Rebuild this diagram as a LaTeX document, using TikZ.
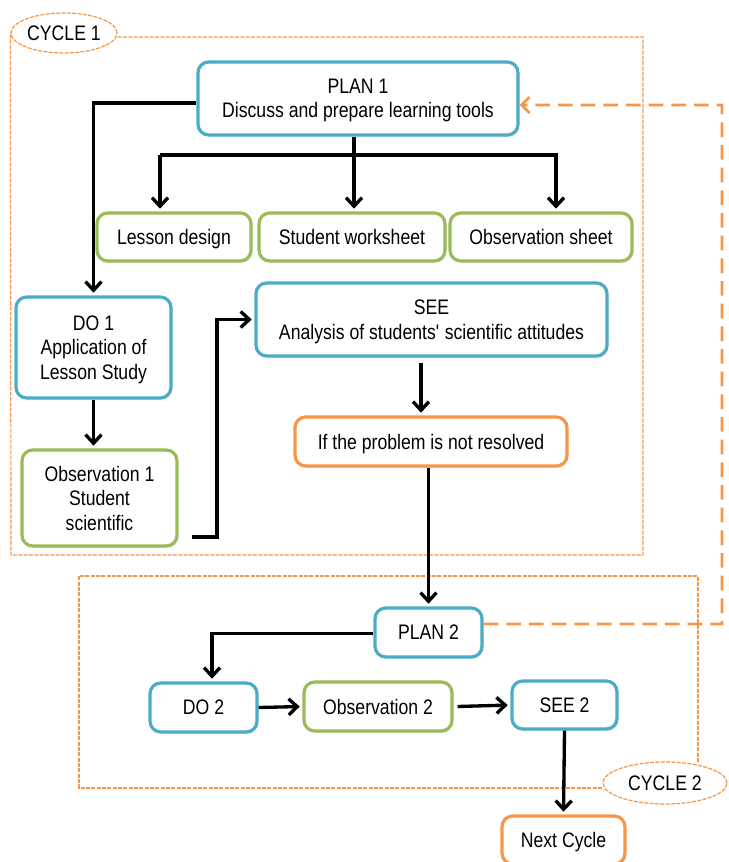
\documentclass[tikz,border=0pt]{standalone}
\usepackage{fontspec}
\setmainfont{Liberation Sans}[FakeStretch=0.84]
\usetikzlibrary{arrows.meta,shapes.geometric,shadows}
\definecolor{cblue}{HTML}{4BACC6}
\definecolor{cgreen}{HTML}{9BBB59}
\definecolor{corange}{HTML}{F79646}
\begin{document}
\begin{tikzpicture}[x=0.75pt,y=-0.75pt,
  nbox/.style={draw, line width=2.4pt, rounded corners=8pt, fill=white, align=center,
    inner sep=0pt, font=\fontsize{15.75}{18.4}\selectfont, text depth=-1.9pt,
    drop shadow={shadow xshift=1pt, shadow yshift=-1.3pt, opacity=0.22}},
  bluebox/.style={nbox, draw=cblue},
  greenbox/.style={nbox, draw=cgreen},
  orangebox/.style={nbox, draw=corange},
  sz/.style 2 args={minimum width=#1*0.75pt, minimum height=#2*0.75pt},
  arr/.style={line width=2.5pt, -{Straight Barb[length=6.5pt,width=12pt]}, shorten >=2pt},
  ln/.style={line width=2.5pt},
  cframe/.style={draw=corange, line width=0.9pt, dash pattern=on 3pt off 1pt},
  cyc/.style={ellipse, draw=corange, line width=0.9pt, dash pattern=on 3pt off 1pt,
    fill=white, inner sep=0pt, font=\fontsize{15.75}{18.4}\selectfont},
  fb/.style={draw=corange, line width=2pt, dash pattern=on 11pt off 6pt,
    -{Straight Barb[length=6pt,width=12pt]}}]
\useasboundingbox (0,0) rectangle (728,862);

% frames
\node[cyc, sz={106}{40}] (cyc1) at (64,33) {CYCLE 1};
\draw[cframe] (cyc1.east |- 0,37) -- (643,37) -- (643,555) -- (11,555) -- (cyc1.west);
\node[cyc, sz={124}{42}] (cyc2) at (665,783) {CYCLE 2};
\draw[cframe] (698,762) -- (698,576) -- (79,576) -- (79,788) -- (cyc2.west |- 0,788);

% nodes
\node[bluebox, sz={320}{73}] (plan1) at (358,98.5) {PLAN 1\\Discuss and prepare learning tools};
\node[greenbox, sz={154}{48}] (lesson) at (174,237) {Lesson design};
\node[greenbox, sz={186}{48}] (worksheet) at (352,237) {Student worksheet};
\node[greenbox, sz={182}{48}] (obssheet) at (541,237) {Observation sheet};
\node[bluebox, sz={155}{101}] (do1) at (93.5,347.5) {DO 1\\Application of\\Lesson Study};
\node[greenbox, sz={155}{96}] (obs1) at (99.5,498) {Observation 1\\Student\\scientific};
\node[bluebox, sz={351}{73}] (see) at (431.5,319.5) {SEE\\Analysis of students\textquotesingle{} scientific attitudes};
\node[orangebox, sz={272}{49}] (ifbox) at (431,441.5) {If the problem is not resolved};
\node[bluebox, sz={107}{49}] (plan2) at (428.5,632.5) {PLAN 2};
\node[bluebox, sz={107}{49}] (do2) at (203.5,707.5) {DO 2};
\node[greenbox, sz={148}{49}] (obs2) at (378,706.5) {Observation 2};
\node[bluebox, sz={105}{48}] (see2) at (564.5,705) {SEE 2};
\node[orangebox, sz={123}{48}] (next) at (563.5,840) {Next Cycle};

% connectors cycle 1
\draw[arr] ([yshift=-3.4pt]plan1.west) -| (do1.north);
\coordinate (b1) at (160,155);
\coordinate (b3) at (556,155);
\draw[ln] (plan1.south -| 354,0) -- (354,155);
\draw[arr] (b1) -- (b1 |- lesson.north);
\draw[arr] (354,155) -- (354,0 |- worksheet.north);
\draw[arr] (b1) -- (b3) -- (b3 |- obssheet.north);
\draw[arr] (do1.south) -- (do1.south |- obs1.north);
\coordinate (o1) at (192,537);
\draw[arr] (o1) -- (217,537) |- (see.west);
\coordinate (s1) at (421,363);
\draw[arr] (s1) -- (s1 |- ifbox.north);
\draw[arr] (ifbox.south -| plan2.north) -- (plan2.north);

% cycle 2
\draw[arr] ([yshift=-0.5pt]plan2.west) -| ([xshift=6.4pt]do2.north);
\draw[arr] (do2.east) -- (obs2.west);
\draw[arr] ([xshift=3pt]obs2.east) -- (see2.west);
\draw[arr] (see2.south) -- (next.north);

% feedback
\coordinate (fbc) at (722,105);
\draw[fb] ([yshift=6.4pt]plan2.east) -| (fbc) -- ([yshift=-4.9pt]plan1.east);
\end{tikzpicture}
\end{document}
